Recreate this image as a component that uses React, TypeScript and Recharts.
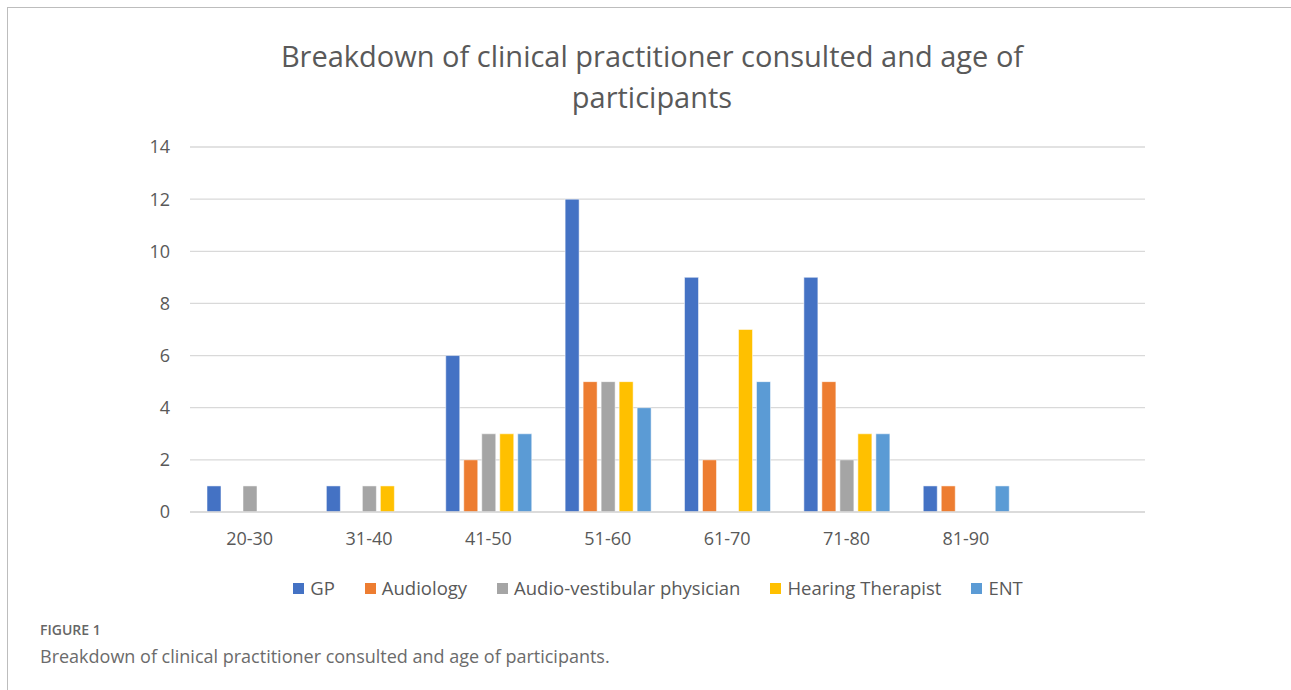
import * as React from "react";
import { Bar, BarChart, CartesianGrid, XAxis, YAxis } from "recharts";

// age bands (last slot is an empty category, as in the original sheet)
const ageGroups = ["20-30", "31-40", "41-50", "51-60", "61-70", "71-80", "81-90", ""];

const gp = [1, 1, 6, 12, 9, 9, 1, 0];
const audiology = [0, 0, 2, 5, 2, 5, 1, 0];
const audioVestibular = [1, 1, 3, 5, 0, 2, 0, 0];
const hearingTherapist = [0, 1, 3, 5, 7, 3, 0, 0];
const ent = [0, 0, 3, 4, 5, 3, 1, 0];

const yTicks = [0, 2, 4, 6, 8, 10, 12, 14];

const series = [
  { key: "gp", name: "GP", color: "#4472C4", values: gp },
  { key: "audiology", name: "Audiology", color: "#ED7D31", values: audiology },
  { key: "av", name: "Audio-vestibular physician", color: "#A5A5A5", values: audioVestibular },
  { key: "ht", name: "Hearing Therapist", color: "#FFC000", values: hearingTherapist },
  { key: "ent", name: "ENT", color: "#5B9BD5", values: ent },
];

const data = ageGroups.map((age, i) => {
  const row: Record<string, string | number> = { age };
  series.forEach((s) => {
    row[s.key] = s.values[i];
  });
  return row;
});

const FONT = "'Open Sans', 'Noto Sans', sans-serif";
const TEXT = "#595959";

export default function App() {
  return (
    <div
      style={{
        position: "absolute",
        left: 0,
        top: 0,
        width: 1291,
        height: 690,
        overflow: "hidden",
        background: "#fff",
        fontFamily: FONT,
      }}
    >
      {/* figure frame */}
      <div
        style={{
          position: "absolute",
          left: 7,
          top: 7,
          width: 1320,
          height: 720,
          border: "1px solid #bdbdbd",
        }}
      />

      <div
        style={{
          position: "absolute",
          left: 0,
          top: 35,
          width: 1304,
          textAlign: "center",
          fontSize: 29,
          lineHeight: "41px",
          color: TEXT,
        }}
      >
        Breakdown of clinical practitioner consulted and age of
        <br />
        participants
      </div>

      <div style={{ position: "absolute", left: 0, top: 0 }}>
        <BarChart
          width={1291}
          height={560}
          data={data}
          margin={{ top: 147, right: 146, bottom: 18, left: 130 }}
          barGap={4}
          barSize={14}
        >
          <CartesianGrid vertical={false} stroke="#d9d9d9" strokeWidth={1.3} />
          <XAxis
            dataKey="age"
            height={30}
            axisLine={{ stroke: "#d9d9d9", strokeWidth: 1.3 }}
            tickLine={false}
            tickSize={0}
            tickMargin={20}
            interval={0}
            tick={{ fill: TEXT, fontSize: 18, fontFamily: FONT }}
          />
          <YAxis
            width={60}
            domain={[0, 14]}
            ticks={yTicks}
            axisLine={false}
            tickLine={false}
            tickSize={0}
            tickMargin={20}
            tick={{ fill: TEXT, fontSize: 18, fontFamily: FONT }}
          />
          {series.map((s) => (
            <Bar
              key={s.key}
              dataKey={s.key}
              name={s.name}
              fill={s.color}
              stroke="#ffffff"
              strokeOpacity={0.5}
              strokeWidth={1}
              isAnimationActive={false}
            />
          ))}
        </BarChart>
      </div>

      {/* legend */}
      <div
        style={{
          position: "absolute",
          left: 0,
          top: 575,
          width: 1316,
          display: "flex",
          justifyContent: "center",
          gap: 30,
          fontSize: 18.5,
          color: TEXT,
          lineHeight: "26px",
        }}
      >
        {series.map((s) => (
          <div key={s.key} style={{ display: "flex", alignItems: "center", gap: 6 }}>
            <span style={{ width: 11, height: 11, background: s.color, display: "inline-block" }} />
            <span>{s.name}</span>
          </div>
        ))}
      </div>

      <div
        style={{
          position: "absolute",
          left: 40,
          top: 620,
          fontSize: 14,
          fontWeight: 600,
          color: "#666",
        }}
      >
        FIGURE 1
      </div>
      <div
        style={{
          position: "absolute",
          left: 40,
          top: 644,
          fontSize: 18,
          color: "#6b6b6b",
        }}
      >
        Breakdown of clinical practitioner consulted and age of participants.
      </div>
    </div>
  );
}
